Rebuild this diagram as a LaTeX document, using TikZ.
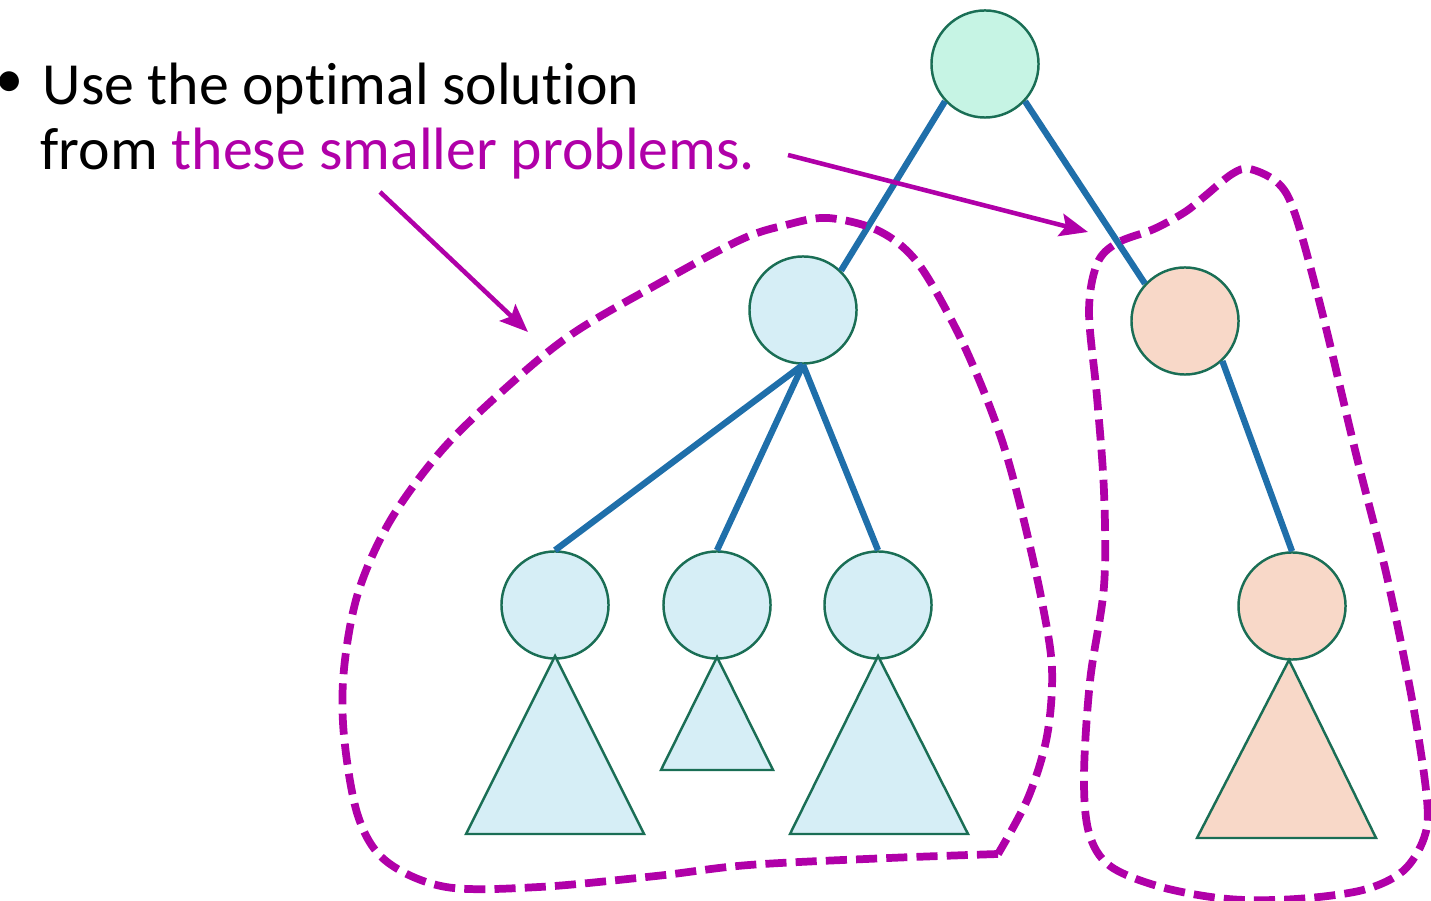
\documentclass[tikz,border=0pt]{standalone}
\usepackage{xcolor}
\usepackage{fontspec}
\setmainfont{Carlito}[Ligatures=NoCommon]
\usepackage{tikz}
\usetikzlibrary{arrows.meta,positioning}

\definecolor{rootfill}{RGB}{198,244,228}
\definecolor{leftfill}{RGB}{214,238,246}
\definecolor{rightfill}{RGB}{248,216,200}
\definecolor{nodeline}{RGB}{26,110,85}
\definecolor{edgeblue}{RGB}{31,111,170}
\definecolor{hilite}{RGB}{176,0,168}

\begin{document}
\begin{tikzpicture}[
    x=0.01cm, y=-0.01cm,
    treenode/.style={circle, draw=nodeline, line width=0.7pt, minimum size=1.07cm, inner sep=0pt},
    subtree/.style={draw=nodeline, line width=0.7pt, line join=miter},
    edge/.style={draw=edgeblue, line width=1.8pt},
    blob/.style={draw=hilite, line width=2.2pt, dash pattern=on 6pt off 2.6pt},
    pointer/.style={-{Stealth[length=8pt, width=6.5pt, inset=1.5pt]}, draw=hilite, line width=1.3pt},
    caption/.style={anchor=base west, inner sep=0pt, font=\fontsize{17}{20}\selectfont}
]
\useasboundingbox (0,0) rectangle (1431,901);

% Bullet text
\node[caption] (line1) at (42,105) {Use the optimal solution};
\node[caption] (line2) at (40,170) {from \textcolor{hilite}{these smaller problems.}};
\node[anchor=center, inner sep=0pt, font=\fontsize{16}{20}\selectfont] (bullet) at (10,85) {\textbullet};

% Tree nodes
\node[treenode, fill=rootfill] (root) at (985,64) {};
\node[treenode, fill=leftfill] (lm) at (803,310) {};
\node[treenode, fill=rightfill] (rm) at (1185,321) {};
\node[treenode, fill=leftfill] (b1) at (555,605) {};
\node[treenode, fill=leftfill] (b2) at (717,605) {};
\node[treenode, fill=leftfill] (b3) at (878,605) {};
\node[treenode, fill=rightfill] (pb) at (1292,606) {};

% Subtrees below the leaves
\filldraw[subtree, fill=leftfill] (555,656) -- (644,834) -- (466,834) -- cycle;
\filldraw[subtree, fill=leftfill] (717,657) -- (773,770) -- (661,770) -- cycle;
\filldraw[subtree, fill=leftfill] (878,656) -- (968,834) -- (790,834) -- cycle;
\filldraw[subtree, fill=rightfill] (1289,660) -- (1376,838) -- (1197,838) -- cycle;

% Edges
\draw[edge] (root.223) -- (lm.46);
\draw[edge] (root.317) -- (rm.137);
\draw[edge] (lm.south) -- (b1.north);
\draw[edge] (lm.south) -- (b2.north);
\draw[edge] (lm.south) -- (b3.north);
\draw[edge] (rm.313) -- (pb.north);

% Smaller problems
\draw[blob] plot[smooth, tension=0.55] coordinates {
    (998,854) (889,858) (749,865) (656,876) (539,887) (446,887) (386,861)
    (358,816) (344,736) (344,669) (358,593) (390,521) (442,450) (507,387)
    (572,334) (656,285) (740,240) (786,225) (828,218) (879,231) (917,262)
    (954,325) (982,387) (1005,450) (1024,521) (1042,602) (1052,669)
    (1047,736) (1028,798) (998,854)};
\draw[blob] plot[smooth cycle, tension=0.55] coordinates {
    (1250,169) (1279,184) (1296,217) (1323,316) (1356,454) (1387,577)
    (1413,705) (1427,800) (1424,838) (1403,871) (1363,890) (1296,899)
    (1228,899) (1161,887) (1110,866) (1089,833) (1084,776) (1090,681)
    (1104,586) (1104,492) (1097,397) (1089,312) (1097,264) (1117,243)
    (1154,229) (1185,212) (1205,196) (1232,174)};

% Pointers from the text
\coordinate (p1from) at (380,192);
\coordinate (p1to) at (528,332);
\coordinate (p2from) at (788,155);
\coordinate (p2to) at (1088,232);
\draw[pointer] (p1from) -- (p1to);
\draw[pointer] (p2from) -- (p2to);

\end{tikzpicture}
\end{document}
